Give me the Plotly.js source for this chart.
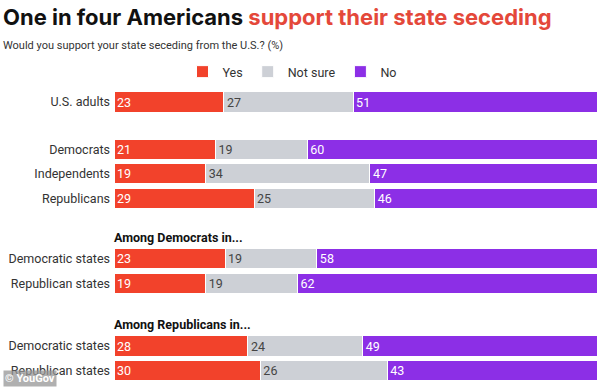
<!DOCTYPE html>
<html>
<head>
<meta charset="utf-8">
<script src="https://cdn.plot.ly/plotly-3.0.1.min.js"></script>
<style>html,body{margin:0;padding:0;background:#fff;}#chart{width:600px;height:387px;}</style>
</head>
<body>
<div id="chart"></div>
<script>
// Data
const rowLabels = ["U.S. adults", "Democrats", "Independents", "Republicans",
  "Democratic states", "Republican states", "Democratic states", "Republican states"];
const rowGroups = [0, 1, 1, 1, 2, 2, 3, 3];
const groupHeaders = [null, null, "Among Democrats in...", "Among Republicans in..."];
const yesValues = [23, 21, 19, 29, 23, 19, 28, 30];
const notSureValues = [27, 19, 34, 25, 19, 19, 24, 26];
const noValues = [51, 60, 47, 46, 58, 62, 49, 43];
const seriesNames = ["Yes", "Not sure", "No"];

// Layout of rows (row units)
const gapHeader = [0, 1.92, 2.45, 2.55];
const yPos = [];
let cur = 0;
rowGroups.forEach((g, i) => {
  if (i > 0) cur += (g !== rowGroups[i - 1]) ? gapHeader[g] : 1;
  yPos.push(cur);
});

const colors = ["#f2422b", "#cdd0d6", "#8c2fe6"];
const textColors = ["#ffffff", "#444444", "#ffffff"];
const values = [yesValues, notSureValues, noValues];
const font = "Roboto, 'Liberation Sans', Arial, sans-serif";

const traces = values.map((vals, k) => ({
  type: "bar",
  orientation: "h",
  name: seriesNames[k],
  x: vals,
  y: yPos,
  width: 0.82,
  text: vals.map(String),
  textposition: "inside",
  insidetextanchor: "start",
  textangle: 0,
  constraintext: "none",
  insidetextfont: {family: font, size: 12.5, color: textColors[k]},
  marker: {color: colors[k], line: {color: "#ffffff", width: 1}},
  hoverinfo: "skip"
}));

const annotations = [];
groupHeaders.forEach((h, g) => {
  if (!h) return;
  const first = rowGroups.indexOf(g);
  annotations.push({
    xref: "x", yref: "y", x: 0, y: yPos[first] - 0.86, xshift: -2,
    xanchor: "left", yanchor: "middle", showarrow: false,
    text: "<b>" + h + "</b>",
    font: {family: font, size: 12.5, color: "#111111"}
  });
});
annotations.push({
  xref: "paper", yref: "paper", x: -113 / 483, y: 1 + 34 / 307,
  xanchor: "left", yanchor: "middle", showarrow: false,
  text: "Would you support your state seceding from the U.S.? (%)",
  font: {family: font, size: 11, color: "#333333"}
});
annotations.push({
  xref: "paper", yref: "paper", x: -111 / 483, y: 0,
  xanchor: "left", yanchor: "bottom", showarrow: false,
  text: "<b>© YouGov</b>", bgcolor: "rgba(150,150,150,0.75)", borderpad: 1,
  font: {family: font, size: 11, color: "#ffffff"}
});

const layout = {
  width: 600, height: 387,
  margin: {l: 114, r: 3, t: 80, b: 0},
  paper_bgcolor: "#ffffff", plot_bgcolor: "#ffffff",
  barmode: "stack", barnorm: "percent",
  showlegend: true,
  legend: {
    orientation: "h", x: (292 - 114) / 483, xanchor: "center",
    y: 1 + 8 / 307, yanchor: "middle",
    font: {family: font, size: 12.5, color: "#333333"},
    traceorder: "normal", itemclick: false
  },
  title: {
    text: "<b>One in four Americans <span style='color:#e4483a'>support their state seceding</span></b>",
    x: 3 / 600, xanchor: "left", xref: "container",
    y: 1 - 17 / 387, yanchor: "middle", yref: "container",
    font: {family: "Inter, 'Liberation Sans', Arial, sans-serif", size: 22, weight: 800, color: "#111111"}
  },
  xaxis: {range: [0, 100], visible: false, fixedrange: true},
  yaxis: {
    range: [(387 - 102) / 24.6, (80 - 102) / 24.6],
    tickmode: "array", tickvals: yPos, ticktext: rowLabels,
    ticks: "", showgrid: false, zeroline: false, showline: false,
    ticklabelstandoff: 3,
    tickfont: {family: font, size: 12.5, color: "#333333"}
  },
  annotations: annotations
};

Plotly.newPlot("chart", traces, layout, {displayModeBar: false, staticPlot: true});
</script>
</body>
</html>
